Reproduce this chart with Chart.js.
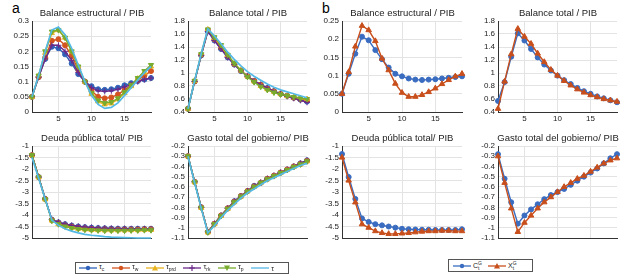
<!DOCTYPE html>
<html>
<head>
<meta charset="utf-8">
<script src="https://cdn.jsdelivr.net/npm/chart.js@4"></script>
<style>
  body { margin: 0; background: #fff; }
  #wrap { position: relative; width: 625px; height: 280px; overflow: hidden; font-family: "Liberation Sans", Arial, sans-serif; }
  .cell { position: absolute; overflow: hidden; }
  .ttl { position: absolute; font-size: 9.5px; color: #222; text-align: center; white-space: nowrap; line-height: 12px; }
  .tag { position: absolute; font-size: 14px; color: #000; }
  .legend { position: absolute; border: 1px solid #555; background: #fff; display: flex; align-items: center; font-size: 7px; color: #222; box-sizing: border-box; }
  .legend .item { display: flex; align-items: center; margin-right: 6px; }
  .legend .item svg { margin-right: 2px; }
  .ss { display: inline-flex; flex-direction: column; font-size: 5px; line-height: 5px; vertical-align: middle; }
  sub { font-size: 5px; }
</style>
</head>
<body>
<div id="wrap">
  <div class="tag" style="left:12px;top:0px;">a</div>
  <div class="tag" style="left:322px;top:0px;">b</div>
</div>
<script>
// periods on the horizontal axis
const steps = [1, 2, 3, 4, 5, 6, 7, 8, 9, 10, 11, 12, 13, 14, 15, 16, 17, 18, 19];

// panel a: Balance estructural / PIB
const aEstr_tc   = [0.05, 0.115, 0.175, 0.215, 0.21, 0.19, 0.16, 0.125, 0.10, 0.085, 0.075, 0.073, 0.075, 0.08, 0.088, 0.095, 0.102, 0.107, 0.112];
const aEstr_tw   = [0.05, 0.115, 0.18, 0.235, 0.24, 0.22, 0.185, 0.14, 0.10, 0.07, 0.05, 0.045, 0.048, 0.058, 0.072, 0.088, 0.105, 0.12, 0.135];
const aEstr_tprd = [0.05, 0.12, 0.195, 0.26, 0.27, 0.245, 0.20, 0.15, 0.10, 0.06, 0.035, 0.025, 0.028, 0.042, 0.062, 0.085, 0.11, 0.13, 0.15];
const aEstr_trk  = [0.05, 0.115, 0.175, 0.22, 0.22, 0.20, 0.17, 0.13, 0.10, 0.08, 0.07, 0.068, 0.07, 0.075, 0.083, 0.09, 0.10, 0.107, 0.112];
const aEstr_tp   = [0.05, 0.12, 0.20, 0.265, 0.27, 0.245, 0.20, 0.15, 0.10, 0.062, 0.038, 0.03, 0.033, 0.045, 0.065, 0.088, 0.112, 0.135, 0.155];
const aEstr_t    = [0.05, 0.12, 0.20, 0.27, 0.28, 0.255, 0.21, 0.155, 0.10, 0.055, 0.025, 0.012, 0.015, 0.03, 0.055, 0.08, 0.105, 0.13, 0.15];

// panel a: Balance total / PIB
const aTot_tc   = [0.45, 0.87, 1.27, 1.64, 1.50, 1.37, 1.24, 1.13, 1.03, 0.95, 0.88, 0.82, 0.77, 0.72, 0.68, 0.65, 0.62, 0.59, 0.56];
const aTot_tw   = [0.45, 0.87, 1.28, 1.66, 1.52, 1.39, 1.26, 1.14, 1.04, 0.95, 0.88, 0.82, 0.76, 0.72, 0.68, 0.65, 0.62, 0.60, 0.58];
const aTot_tprd = [0.45, 0.88, 1.29, 1.67, 1.54, 1.41, 1.27, 1.15, 1.04, 0.95, 0.87, 0.80, 0.75, 0.71, 0.68, 0.65, 0.63, 0.61, 0.60];
const aTot_trk  = [0.45, 0.87, 1.27, 1.64, 1.50, 1.37, 1.24, 1.13, 1.03, 0.95, 0.88, 0.82, 0.77, 0.72, 0.68, 0.64, 0.61, 0.58, 0.55];
const aTot_tp   = [0.45, 0.88, 1.29, 1.67, 1.55, 1.43, 1.28, 1.15, 1.04, 0.94, 0.86, 0.79, 0.74, 0.70, 0.67, 0.65, 0.63, 0.61, 0.60];
const aTot_t    = [0.45, 0.88, 1.30, 1.68, 1.57, 1.45, 1.32, 1.21, 1.11, 1.02, 0.95, 0.89, 0.83, 0.78, 0.74, 0.71, 0.68, 0.65, 0.62];

// panel a: Deuda pública total / PIB
const aDeu_tc   = [-1.4, -2.35, -3.3, -4.2, -4.32, -4.4, -4.46, -4.5, -4.53, -4.55, -4.57, -4.58, -4.59, -4.6, -4.6, -4.6, -4.6, -4.6, -4.6];
const aDeu_tw   = [-1.4, -2.35, -3.3, -4.22, -4.35, -4.45, -4.5, -4.55, -4.58, -4.6, -4.62, -4.62, -4.63, -4.63, -4.63, -4.63, -4.63, -4.62, -4.62];
const aDeu_tprd = [-1.4, -2.36, -3.32, -4.24, -4.4, -4.5, -4.56, -4.6, -4.63, -4.65, -4.66, -4.67, -4.67, -4.67, -4.67, -4.66, -4.66, -4.65, -4.65];
const aDeu_trk  = [-1.4, -2.35, -3.3, -4.2, -4.31, -4.39, -4.45, -4.49, -4.52, -4.54, -4.56, -4.57, -4.58, -4.59, -4.59, -4.6, -4.6, -4.6, -4.6];
const aDeu_tp   = [-1.4, -2.36, -3.32, -4.25, -4.4, -4.5, -4.57, -4.61, -4.64, -4.66, -4.67, -4.68, -4.68, -4.68, -4.68, -4.67, -4.67, -4.66, -4.66];
const aDeu_t    = [-1.5, -2.4, -3.32, -4.22, -4.45, -4.6, -4.7, -4.78, -4.84, -4.88, -4.91, -4.94, -4.96, -4.97, -4.98, -4.99, -5.0, -5.0, -5.0];

// panel a: Gasto total del gobierno / PIB
const aGas_tc   = [-0.3, -0.55, -0.8, -1.04, -0.96, -0.88, -0.81, -0.74, -0.69, -0.64, -0.59, -0.56, -0.52, -0.49, -0.46, -0.43, -0.40, -0.37, -0.34];
const aGas_tw   = [-0.3, -0.55, -0.8, -1.04, -0.96, -0.88, -0.81, -0.745, -0.69, -0.64, -0.595, -0.56, -0.52, -0.49, -0.46, -0.43, -0.40, -0.375, -0.345];
const aGas_tprd = [-0.3, -0.555, -0.805, -1.045, -0.965, -0.885, -0.815, -0.75, -0.695, -0.645, -0.6, -0.56, -0.525, -0.495, -0.465, -0.435, -0.405, -0.38, -0.35];
const aGas_trk  = [-0.3, -0.55, -0.8, -1.04, -0.96, -0.88, -0.81, -0.74, -0.69, -0.64, -0.59, -0.555, -0.52, -0.49, -0.46, -0.43, -0.40, -0.37, -0.34];
const aGas_tp   = [-0.3, -0.555, -0.805, -1.045, -0.965, -0.885, -0.815, -0.75, -0.695, -0.645, -0.6, -0.56, -0.525, -0.495, -0.465, -0.435, -0.405, -0.38, -0.35];
const aGas_t    = [-0.3, -0.56, -0.81, -1.05, -0.98, -0.90, -0.83, -0.77, -0.71, -0.66, -0.62, -0.58, -0.54, -0.51, -0.48, -0.45, -0.42, -0.39, -0.37];

// panel b
const bEstr_C = [0.05, 0.105, 0.16, 0.207, 0.197, 0.17, 0.145, 0.122, 0.105, 0.098, 0.092, 0.089, 0.088, 0.089, 0.09, 0.092, 0.094, 0.096, 0.098];
const bEstr_X = [0.05, 0.11, 0.18, 0.237, 0.225, 0.195, 0.147, 0.115, 0.078, 0.053, 0.042, 0.042, 0.047, 0.055, 0.065, 0.077, 0.088, 0.098, 0.105];
const bTot_C  = [0.57, 0.86, 1.25, 1.61, 1.50, 1.37, 1.24, 1.13, 1.04, 0.96, 0.89, 0.83, 0.77, 0.72, 0.68, 0.64, 0.61, 0.58, 0.55];
const bTot_X  = [0.45, 0.87, 1.29, 1.68, 1.56, 1.45, 1.30, 1.17, 1.05, 0.96, 0.88, 0.81, 0.75, 0.70, 0.66, 0.63, 0.60, 0.58, 0.56];
const bDeu_C  = [-1.35, -2.35, -3.3, -4.15, -4.3, -4.4, -4.45, -4.5, -4.55, -4.6, -4.62, -4.63, -4.64, -4.64, -4.65, -4.65, -4.65, -4.65, -4.62];
const bDeu_X  = [-1.5, -2.5, -3.45, -4.4, -4.55, -4.7, -4.78, -4.82, -4.82, -4.8, -4.78, -4.75, -4.72, -4.7, -4.7, -4.68, -4.68, -4.7, -4.7];
const bGas_C  = [-0.28, -0.52, -0.75, -0.96, -0.88, -0.82, -0.77, -0.72, -0.68, -0.65, -0.62, -0.58, -0.54, -0.50, -0.46, -0.42, -0.37, -0.32, -0.28];
const bGas_X  = [-0.30, -0.56, -0.81, -1.04, -0.95, -0.88, -0.81, -0.75, -0.70, -0.65, -0.60, -0.56, -0.52, -0.49, -0.45, -0.41, -0.37, -0.34, -0.32];

const xTicks = [5, 10, 15];

const BLUE = '#2f62b8', RED = '#d4541f', YEL = '#e8b420', PUR = '#6b2a8a', GRN = '#78ab2e', CYAN = '#55b9e6';

const styleA = [
  { color: BLUE, point: 'circle', rot: 0, r: 2.5 },
  { color: RED,  point: 'circle', rot: 0, r: 2.5 },
  { color: YEL,  point: 'triangle', rot: 0, r: 3 },
  { color: PUR,  point: 'cross', rot: 0, r: 3 },
  { color: GRN,  point: 'triangle', rot: 180, r: 3 },
  { color: CYAN, point: false, rot: 0, r: 0 }
];
const styleB = [
  { color: '#3a6cc0', point: 'circle', rot: 0, r: 2.5 },
  { color: '#c84f1c', point: 'triangle', rot: 0, r: 3.2 }
];

function makeSets(list, styles) {
  const n = list.length;
  return list.map((vals, i) => {
    const s = styles[i];
    return {
      data: steps.map((x, k) => ({ x: x, y: vals[k] })),
      borderColor: s.color,
      backgroundColor: s.color,
      pointBackgroundColor: s.color,
      pointBorderColor: s.color,
      pointStyle: s.point,
      pointRotation: s.rot,
      pointRadius: s.r,
      pointBorderWidth: 1,
      borderWidth: s.point ? 1.4 : 1.7,
      tension: 0,
      clip: false,
      order: n - i
    };
  });
}

const fmt = v => String(Math.round(v * 100) / 100);

function panel(box, title, yMin, yMax, yStep, sets, bottomRow) {
  const yW = 30, titleH = 16, xH = 14;
  const left = box.l - yW, top = box.t - titleH;
  const w = box.r - left + 4;
  const h = titleH + (box.b - box.t) + xH;
  const wrap = document.getElementById('wrap');

  const cell = document.createElement('div');
  cell.className = 'cell';
  cell.style.left = left + 'px';
  cell.style.top = top + 'px';
  cell.style.width = w + 'px';
  cell.style.height = (bottomRow ? (241 - top) : h) + 'px';
  const cv = document.createElement('canvas');
  cv.width = w; cv.height = h;
  cv.style.width = w + 'px'; cv.style.height = h + 'px';
  cell.appendChild(cv);
  wrap.appendChild(cell);

  const t = document.createElement('div');
  t.className = 'ttl';
  t.textContent = title;
  t.style.left = (box.l - 20) + 'px';
  t.style.width = (box.r - box.l + 40) + 'px';
  t.style.top = (box.t - 14) + 'px';
  wrap.appendChild(t);

  new Chart(cv.getContext('2d'), {
    type: 'line',
    data: { datasets: sets },
    options: {
      responsive: false,
      animation: false,
      layout: { padding: { left: 0, right: 4, top: titleH, bottom: 0 } },
      plugins: {
        legend: { display: false },
        tooltip: { enabled: false },
        title: { display: false }
      },
      scales: {
        x: {
          type: 'linear',
          min: 1,
          max: 19,
          afterBuildTicks: s => { s.ticks = xTicks.map(v => ({ value: v })); },
          afterFit: s => { s.height = xH; },
          grid: { color: '#e3e3e3', drawTicks: false },
          border: { color: '#333', width: 1 },
          ticks: {
            display: !bottomRow,
            padding: 2,
            color: '#222',
            font: { family: 'Liberation Sans', size: 8 }
          }
        },
        y: {
          min: yMin,
          max: yMax,
          afterFit: s => { s.width = yW; },
          grid: { color: '#e3e3e3', drawTicks: false },
          border: { color: '#333', width: 1 },
          ticks: {
            stepSize: yStep,
            autoSkip: false,
            padding: 3,
            color: '#222',
            callback: fmt,
            font: { family: 'Liberation Sans', size: 8 }
          }
        }
      }
    }
  });
}

const A1 = { l: 32, r: 152, t: 21, b: 112 };
const A2 = { l: 188, r: 308, t: 21, b: 112 };
const A3 = { l: 32, r: 152, t: 146, b: 238 };
const A4 = { l: 188, r: 308, t: 146, b: 238 };
const B1 = { l: 342, r: 463, t: 21, b: 112 };
const B2 = { l: 498, r: 618, t: 21, b: 112 };
const B3 = { l: 342, r: 463, t: 146, b: 238 };
const B4 = { l: 498, r: 618, t: 146, b: 238 };

panel(A1, 'Balance estructural / PIB', 0, 0.3, 0.05,
  makeSets([aEstr_tc, aEstr_tw, aEstr_tprd, aEstr_trk, aEstr_tp, aEstr_t], styleA), false);
panel(A2, 'Balance total / PIB', 0.4, 1.8, 0.2,
  makeSets([aTot_tc, aTot_tw, aTot_tprd, aTot_trk, aTot_tp, aTot_t], styleA), false);
panel(A3, 'Deuda pública total/ PIB', -5, -1, 0.5,
  makeSets([aDeu_tc, aDeu_tw, aDeu_tprd, aDeu_trk, aDeu_tp, aDeu_t], styleA), true);
panel(A4, 'Gasto total del gobierno/ PIB', -1.1, -0.2, 0.1,
  makeSets([aGas_tc, aGas_tw, aGas_tprd, aGas_trk, aGas_tp, aGas_t], styleA), true);
panel(B1, 'Balance estructural / PIB', 0, 0.25, 0.05, makeSets([bEstr_C, bEstr_X], styleB), false);
panel(B2, 'Balance total / PIB', 0.4, 1.8, 0.2, makeSets([bTot_C, bTot_X], styleB), false);
panel(B3, 'Deuda pública total/ PIB', -5, -1, 0.5, makeSets([bDeu_C, bDeu_X], styleB), true);
panel(B4, 'Gasto total del gobierno/ PIB', -1.1, -0.2, 0.1, makeSets([bGas_C, bGas_X], styleB), true);

// legends (html boxes under each group)
function marker(s) {
  let m = '';
  const c = s.color;
  if (s.point === 'circle') m = `<circle cx="9" cy="4" r="2.2" fill="${c}"/>`;
  else if (s.point === 'triangle' && s.rot === 0) m = `<polygon points="9,1 12,6.5 6,6.5" fill="${c}"/>`;
  else if (s.point === 'triangle') m = `<polygon points="9,7 12,1.5 6,1.5" fill="${c}"/>`;
  else if (s.point === 'cross') m = `<path d="M9 1 V7 M6 4 H12" stroke="${c}" stroke-width="1.2"/>`;
  return `<svg width="18" height="8"><line x1="0" y1="4" x2="18" y2="4" stroke="${c}" stroke-width="1.3"/>${m}</svg>`;
}
const legendA = [
  ['τ', 'c'], ['τ', 'w'], ['τ', 'prd'], ['τ', 'rk'], ['τ', 'p'], ['τ', '']
];
const legendB = ['C', 'X'];

const la = document.createElement('div');
la.className = 'legend';
Object.assign(la.style, { left: '75px', top: '262px', width: '214px', height: '12px', paddingLeft: '3px', justifyContent: 'space-between', paddingRight: '8px' });
la.innerHTML = legendA.map((e, i) =>
  `<span class="item">${marker(styleA[i])}<span>${e[0]}${e[1] ? '<sub>' + e[1] + '</sub>' : ''}</span></span>`).join('');
document.getElementById('wrap').appendChild(la);

const lb = document.createElement('div');
lb.className = 'legend';
Object.assign(lb.style, { left: '448px', top: '259px', width: '85px', height: '13px', paddingLeft: '4px' });
lb.innerHTML = legendB.map((e, i) =>
  `<span class="item">${marker(styleB[i])}<span>${e}<span class="ss"><span>G</span><span>t</span></span></span></span>`).join('');
document.getElementById('wrap').appendChild(lb);
</script>
</body>
</html>
